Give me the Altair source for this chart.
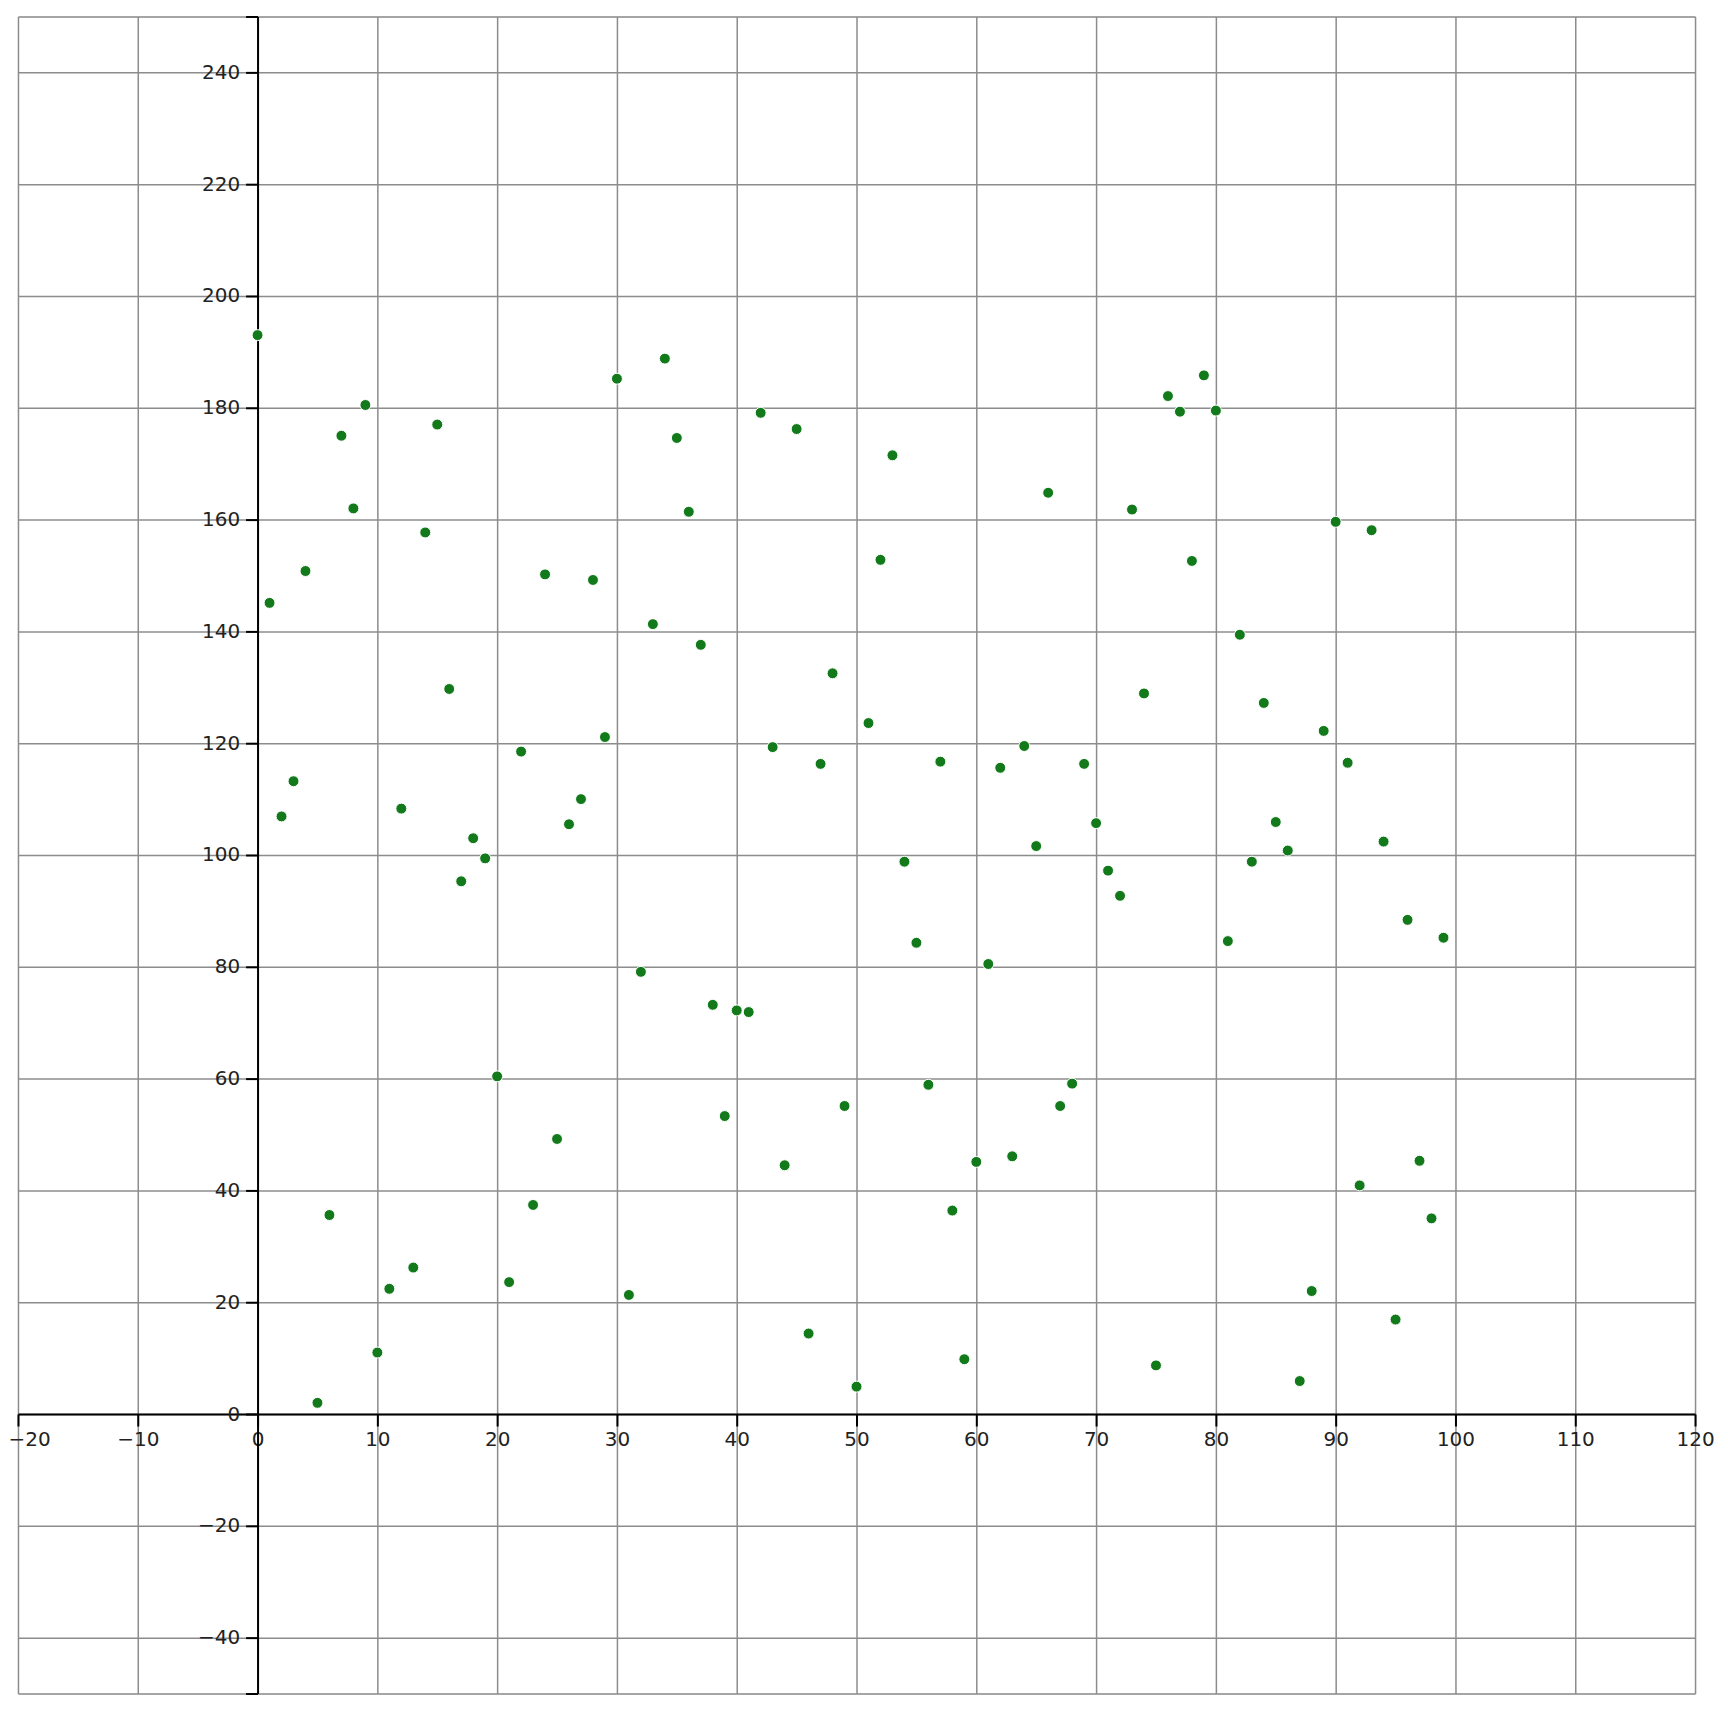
import altair as alt
import pandas as pd

xs = list(range(100))
ys = [193.0, 145.1, 106.9, 113.2, 150.8, 2.0, 35.6, 175.0, 162.0, 180.5,
      11.0, 22.4, 108.3, 26.2, 157.7, 177.0, 129.7, 95.3, 103.0, 99.4,
      60.4, 23.6, 118.5, 37.4, 150.2, 49.2, 105.5, 110.0, 149.2, 121.1,
      185.2, 21.3, 79.1, 141.3, 188.8, 174.6, 161.4, 137.6, 73.2, 53.3,
      72.2, 71.9, 179.1, 119.3, 44.5, 176.2, 14.4, 116.3, 132.5, 55.1,
      4.9, 123.6, 152.8, 171.5, 98.8, 84.3, 58.9, 116.7, 36.4, 9.8,
      45.1, 80.5, 115.6, 46.1, 119.5, 101.6, 164.8, 55.1, 59.1, 116.3,
      105.7, 97.2, 92.7, 161.8, 128.9, 8.7, 182.1, 179.3, 152.6, 185.8,
      179.5, 84.6, 139.4, 98.8, 127.2, 105.9, 100.8, 5.9, 22.0, 122.2,
      159.6, 116.5, 40.9, 158.1, 102.4, 16.9, 88.4, 45.3, 35.0, 85.2]

x_ticks = [-20, -10, 0, 10, 20, 30, 40, 50, 60, 70, 80, 90, 100, 110, 120]
y_ticks = [-50, -40, -20, 0, 20, 40, 60, 80, 100, 120, 140, 160, 180, 200, 220, 240, 250]

df = pd.DataFrame({"x": xs, "y": ys})

W = 1680
H = 1680
x_off = -H * 50 / 300
y_off = -W * 20 / 140

axis_common = dict(
    title=None,
    domainColor="#000000",
    domainWidth=2,
    tickColor="#000000",
    tickWidth=2,
    tickSize=12,
    gridColor="#8c8c8c",
    gridWidth=1.5,
    gridOpacity=1,
    labelFont="DejaVu Sans",
    labelFontSize=20,
    labelColor="#222222",
    labelFlush=False,
    labelOverlap=False,
)

chart = alt.Chart(df).mark_circle(
    size=120, color="#137a1c", opacity=1, stroke="white", strokeWidth=1
).encode(
    x=alt.X("x:Q", scale=alt.Scale(domain=[-20, 120], nice=False, zero=False),
            axis=alt.Axis(values=x_ticks, orient="bottom", offset=x_off,
                          labelPadding=4,
                          labelAlign={"condition": {"test": "datum.value == -20", "value": "left"},
                                      "value": "center"},
                          labelOffset={"condition": {"test": "datum.value == -20", "value": -10},
                                       "value": 0},
                          **axis_common)),
    y=alt.Y("y:Q", scale=alt.Scale(domain=[-50, 250], nice=False, zero=False),
            axis=alt.Axis(values=y_ticks, orient="left", offset=y_off,
                          labelPadding=6,
                          labelExpr="(datum.value == 250 || datum.value == -50) ? '' : datum.label",
                          labelBaseline="middle",
                          **axis_common)),
).properties(
    width=W, height=H,
    padding={"left": 10, "top": 7, "right": 25, "bottom": 10},
    autosize=alt.AutoSizeParams(type="none"),
).configure_view(
    fill="#f7f7f7", stroke="#8c8c8c", strokeWidth=1.5
).configure(background="white")

chart.save("out.html", embed_options={"renderer": "svg", "actions": False})
